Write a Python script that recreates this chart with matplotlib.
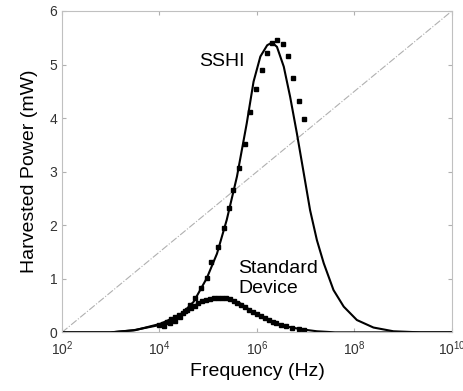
import numpy as np
import matplotlib.pyplot as plt
from matplotlib.ticker import FixedLocator, FixedFormatter

plt.rcParams['font.family'] = ['Liberation Sans', 'DejaVu Sans']
plt.rcParams['mathtext.fontset'] = 'custom'
plt.rcParams['mathtext.rm'] = 'Liberation Sans'

# SSHI model curve (log10 frequency, power in mW)
sshi_logf = [2.0, 3.0, 3.47, 4.02, 4.43, 4.70, 4.97, 5.18, 5.38, 5.59, 5.79, 5.93,
             6.07, 6.21, 6.31, 6.41, 6.55, 6.68, 6.82, 6.96, 7.09, 7.23, 7.37,
             7.57, 7.78, 8.05, 8.39, 8.80, 9.35, 10.0]
sshi_p = [0.0, 0.0, 0.04, 0.14, 0.32, 0.57, 1.01, 1.47, 2.10, 2.91, 3.90, 4.68,
          5.15, 5.36, 5.41, 5.33, 4.96, 4.40, 3.71, 2.97, 2.28, 1.72, 1.29,
          0.79, 0.48, 0.23, 0.09, 0.02, 0.0, 0.0]

# SSHI measured points
sshi_meas_logf = [4.10, 4.22, 4.32, 4.43, 4.53, 4.63, 4.735, 4.845, 4.974, 5.056,
                  5.20, 5.316, 5.426, 5.508, 5.638, 5.761, 5.863, 5.986, 6.096,
                  6.205, 6.308, 6.41, 6.533, 6.629, 6.745, 6.862, 6.97]
sshi_meas_p = [0.12, 0.17, 0.22, 0.29, 0.39, 0.51, 0.65, 0.82, 1.01, 1.31,
               1.60, 1.94, 2.33, 2.65, 3.06, 3.52, 4.12, 4.54, 4.90,
               5.21, 5.40, 5.45, 5.38, 5.15, 4.74, 4.32, 3.98]

# Standard device model curve
std_logf = [2.0, 3.0, 3.5, 4.02, 4.36, 4.63, 4.91, 5.18, 5.38, 5.66, 5.93, 6.21,
            6.55, 6.89, 7.23, 7.6, 8.0, 10.0]
std_p = [0.0, 0.0, 0.04, 0.16, 0.30, 0.45, 0.60, 0.66, 0.65, 0.54, 0.37, 0.23,
         0.12, 0.06, 0.02, 0.0, 0.0, 0.0]

# Standard device measured points
std_meas_logf = [4.00, 4.08, 4.16, 4.24, 4.32, 4.40, 4.48, 4.56, 4.64, 4.72, 4.80,
                 4.88, 4.96, 5.04, 5.12, 5.20, 5.28, 5.36, 5.44, 5.52, 5.60, 5.68,
                 5.76, 5.84, 5.92, 6.00, 6.08, 6.16, 6.24, 6.32, 6.40, 6.50, 6.60,
                 6.72, 6.86, 6.96]
std_meas_p = [0.13, 0.16, 0.20, 0.24, 0.28, 0.33, 0.37, 0.42, 0.46, 0.50, 0.54,
              0.58, 0.61, 0.63, 0.65, 0.65, 0.65, 0.64, 0.62, 0.59, 0.55, 0.51,
              0.47, 0.42, 0.38, 0.34, 0.30, 0.26, 0.23, 0.20, 0.17, 0.14, 0.11,
              0.08, 0.06, 0.05]

xticks = [1e2, 1e4, 1e6, 1e8, 1e10]
xtick_labels = [r'$\mathregular{10^{%d}}$' % e for e in [2, 4, 6, 8, 10]]
yticks = [0, 1, 2, 3, 4, 5, 6]

fig = plt.figure(figsize=(4.64, 3.91), dpi=100)
ax = fig.add_axes([0.1336, 0.150, 0.8404, 0.822])

ax.plot([1e2, 1e10], [0, 6], color='#b0b0b0', lw=0.8, ls='-.')
ax.plot(10 ** np.array(sshi_logf), sshi_p, color='black', lw=1.5)
ax.plot(10 ** np.array(std_logf), std_p, color='black', lw=1.5)
ax.plot(10 ** np.array(sshi_meas_logf), sshi_meas_p, 's', color='black', ms=3.5)
ax.plot(10 ** np.array(std_meas_logf), std_meas_p, 's', color='black', ms=3.5)

ax.set_xscale('log')
ax.set_xlim(1e2, 1e10)
ax.set_ylim(0, 6)
ax.xaxis.set_major_locator(FixedLocator(xticks))
ax.xaxis.set_major_formatter(FixedFormatter(xtick_labels))
ax.xaxis.set_minor_locator(FixedLocator([]))
ax.set_yticks(yticks)
ax.tick_params(direction='in', length=3, color='#b0b0b0', labelsize=10,
               labelcolor='#333333', top=True, right=True)
ax.tick_params(axis='x', pad=5)
for s in ax.spines.values():
    s.set_color('#c0c0c0')
    s.set_linewidth(0.8)

ax.text(10 ** 4.82, 5.05, 'SSHI', fontsize=14, va='center')
ax.text(10 ** 5.62, 1.01, 'Standard\nDevice', fontsize=14, va='center', linespacing=1.2)

ax.set_xlabel('Frequency (Hz)', fontsize=14, labelpad=4)
ax.set_ylabel('Harvested Power (mW)', fontsize=14, labelpad=8)

fig.savefig('out.png', dpi=100)
